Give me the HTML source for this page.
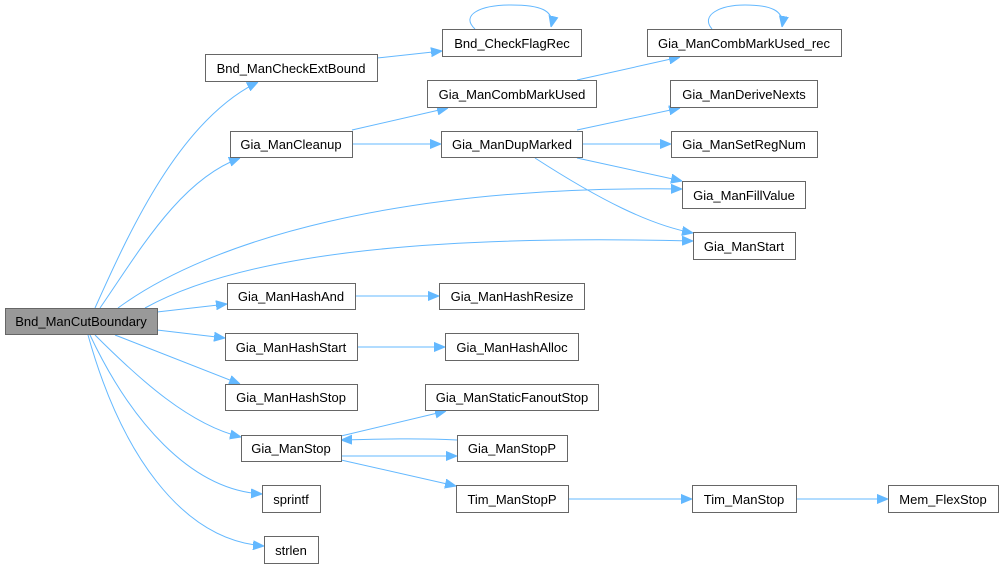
<!DOCTYPE html>
<html><head><meta charset="utf-8"><style>
html,body{margin:0;padding:0;background:#fff;width:1003px;height:568px;overflow:hidden}
text{font-family:"Liberation Sans",Arial,sans-serif;font-size:13px;fill:#000}
rect{fill:#fff;stroke:#666;stroke-width:1}
path{fill:none;stroke:#63b8ff;stroke-width:1}
</style></head><body>
<svg width="1003" height="568" viewBox="0 0 1003 568" xmlns="http://www.w3.org/2000/svg">
<defs><marker id="a" viewBox="0 0 11 10" refX="11" refY="5" markerWidth="11" markerHeight="10" markerUnits="userSpaceOnUse" orient="auto"><path d="M0,0.5 L11,5 L0,9.5 z" style="fill:#63b8ff;stroke:#63b8ff"/></marker></defs>
<g marker-end="url(#a)">
<path d="M95,308 C130,230 180,120 258,82"/>
<path d="M100,308 C140,250 180,180 240,158"/>
<path d="M118,308 C210,240 400,185 682,189"/>
<path d="M145,308 C250,250 450,235 693,241"/>
<path d="M157,312 L227,304"/>
<path d="M157,330 L225,338"/>
<path d="M115,335 L240,384"/>
<path d="M95,335 C140,380 190,425 241,437"/>
<path d="M90,335 C130,420 190,490 262,494"/>
<path d="M88,335 C120,450 180,540 264,546"/>
<path d="M377,58 L442,51"/>
<path d="M352,130 L448,108"/>
<path d="M352,144 L441,144"/>
<path d="M577,80 L680,57"/>
<path d="M577,130 L680,108"/>
<path d="M582,144 L671,144"/>
<path d="M577,158 L682,181"/>
<path d="M535,158 C600,200 650,225 693,233"/>
<path d="M475,29 C460,15 480,5 511,5 C540,5 555,10 551,27"/>
<path d="M712,29 C700,15 720,5 745,5 C770,5 785,10 782,27"/>
<path d="M355,296 L439,296"/>
<path d="M357,347 L445,347"/>
<path d="M341,436 L446,411"/>
<path d="M457,440 C420,438 380,439 341,440"/>
<path d="M341,456 L457,456"/>
<path d="M341,460 L456,486"/>
<path d="M568,499 L692,499"/>
<path d="M796,499 L888,499"/>
</g>
<rect x="5.5" y="308.5" width="152" height="26" style="fill:#999"/><text x="81" y="326" text-anchor="middle">Bnd_ManCutBoundary</text>
<rect x="205.5" y="54.5" width="172" height="27"/><text x="291" y="73" text-anchor="middle">Bnd_ManCheckExtBound</text>
<rect x="230.5" y="131.5" width="122" height="26"/><text x="291" y="149" text-anchor="middle">Gia_ManCleanup</text>
<rect x="227.5" y="283.5" width="128" height="26"/><text x="291" y="301" text-anchor="middle">Gia_ManHashAnd</text>
<rect x="225.5" y="333.5" width="132" height="27"/><text x="291" y="352" text-anchor="middle">Gia_ManHashStart</text>
<rect x="225.5" y="384.5" width="132" height="26"/><text x="291" y="402" text-anchor="middle">Gia_ManHashStop</text>
<rect x="241.5" y="435.5" width="100" height="26"/><text x="291" y="453" text-anchor="middle">Gia_ManStop</text>
<rect x="262.5" y="485.5" width="58" height="27"/><text x="291" y="504" text-anchor="middle">sprintf</text>
<rect x="264.5" y="536.5" width="54" height="27"/><text x="291" y="555" text-anchor="middle">strlen</text>
<rect x="442.5" y="29.5" width="139" height="27"/><text x="512" y="48" text-anchor="middle">Bnd_CheckFlagRec</text>
<rect x="427.5" y="80.5" width="169" height="27"/><text x="512" y="99" text-anchor="middle">Gia_ManCombMarkUsed</text>
<rect x="441.5" y="131.5" width="141" height="26"/><text x="512" y="149" text-anchor="middle">Gia_ManDupMarked</text>
<rect x="439.5" y="283.5" width="145" height="26"/><text x="512" y="301" text-anchor="middle">Gia_ManHashResize</text>
<rect x="445.5" y="333.5" width="133" height="27"/><text x="512" y="352" text-anchor="middle">Gia_ManHashAlloc</text>
<rect x="425.5" y="384.5" width="173" height="26"/><text x="512" y="402" text-anchor="middle">Gia_ManStaticFanoutStop</text>
<rect x="457.5" y="435.5" width="110" height="26"/><text x="512" y="453" text-anchor="middle">Gia_ManStopP</text>
<rect x="456.5" y="485.5" width="112" height="27"/><text x="512" y="504" text-anchor="middle">Tim_ManStopP</text>
<rect x="647.5" y="29.5" width="194" height="27"/><text x="744" y="48" text-anchor="middle">Gia_ManCombMarkUsed_rec</text>
<rect x="670.5" y="80.5" width="147" height="27"/><text x="744" y="99" text-anchor="middle">Gia_ManDeriveNexts</text>
<rect x="671.5" y="131.5" width="146" height="26"/><text x="744" y="149" text-anchor="middle">Gia_ManSetRegNum</text>
<rect x="682.5" y="181.5" width="123" height="27"/><text x="744" y="200" text-anchor="middle">Gia_ManFillValue</text>
<rect x="693.5" y="232.5" width="102" height="27"/><text x="744" y="251" text-anchor="middle">Gia_ManStart</text>
<rect x="692.5" y="485.5" width="104" height="27"/><text x="744" y="504" text-anchor="middle">Tim_ManStop</text>
<rect x="888.5" y="485.5" width="110" height="27"/><text x="943" y="504" text-anchor="middle">Mem_FlexStop</text>
</svg>
</body></html>
